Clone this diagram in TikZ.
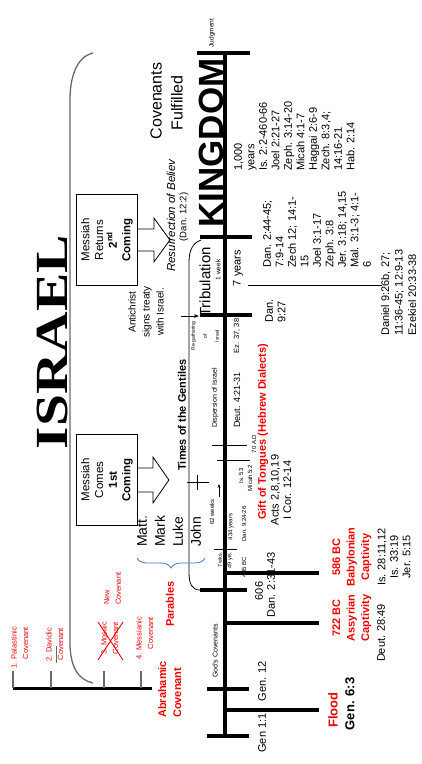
\documentclass[tikz,border=0pt]{standalone}
\usepackage{graphicx}
\usepackage{fontspec}
\setmainfont{Liberation Sans}
\newfontfamily\titleserif{Liberation Serif}
\usetikzlibrary{positioning, arrows.meta, calc, decorations.pathreplacing}

\definecolor{covred}{RGB}{240,0,0}
\definecolor{braceblue}{RGB}{68,114,196}
\definecolor{brackgray}{RGB}{105,105,105}

\begin{document}
\begin{tikzpicture}[
    x=1pt, y=-1pt,
    vtext/.style={rotate=90, inner sep=0pt, align=center, font=\fontsize{11}{12.5}\selectfont},
    tiny/.style={vtext, font=\fontsize{6}{7}\selectfont},
    redbold/.style={vtext, text=covred, font=\bfseries\fontsize{11}{14.5}\selectfont},
    covlabel/.style={vtext, text=covred, font=\fontsize{7.5}{11.5}\selectfont},
    msgbox/.style={draw, rotate=90, line width=0.8pt, minimum width=91, minimum height=61,
                   inner sep=0pt, align=center, font=\fontsize{11.5}{13.7}\selectfont},
    blockarrow/.style={line width=0.8pt, line join=miter},
    tick/.style={line width=3.5pt},
    thintick/.style={line width=0.9pt},
]
\useasboundingbox (0,0) rectangle (421,764);

% Main time line
\coordinate (creation) at (225,736);
\coordinate (judgment) at (225,53);
\draw[line width=4pt] (creation) -- (judgment);

% Thick ticks across the line
\draw[tick] (197,53) -- (250,53);
\draw[tick] (200,237) -- (252,237);
\draw[tick] (200,315) -- (252,315);
\draw[tick] (227,573) -- (319,573);
\draw[tick] (200,590) -- (247,590);
\draw[tick] (227,623) -- (319,623);
\draw[tick] (207,689) -- (249,689);
\draw[tick] (227,710) -- (319,710);
\draw[tick] (207,736) -- (249,736);
% Thin ticks
\draw[thintick] (212,445) -- (247,445);
\draw[thintick] (217,460) -- (250,460);
\draw[thintick] (214,549) -- (237,549);
\draw[thin] (248,285) -- (382,285);

% Big bracket round Israel
\draw[brackgray, line width=1.3pt] (93,53) .. controls (76,57) and (70,78) .. (70,100)
      -- (70,643) .. controls (70,666) and (78,680) .. (93,683);
\node[vtext, font=\titleserif\bfseries\fontsize{46}{46}\selectfont] (israel) at (52,342)
      {\scalebox{1.25}[1]{ISRAEL}};

% Times of the Gentiles bracket
\draw[line width=0.8pt] (201,240) .. controls (193,243) and (189,250) .. (189,262)
      -- (189,572) .. controls (189,584) and (192,590) .. (200,590);
\draw[line width=0.8pt] (187,482) -- (209,482);
\draw[line width=0.8pt] (197,475) -- (197,490);
\draw[-{Stealth[length=5pt]}, line width=0.8pt] (181,316) -- (199,316);
\draw[-{Stealth[length=4pt]}, line width=0.7pt] (219,497) -- (219,484);
\node[vtext, font=\bfseries\fontsize{11}{13}\selectfont] (gentiles) at (182,415) {Times of the Gentiles};

% Kingdom
\node[vtext, font=\fontsize{6.5}{7}\selectfont] (judg) at (212,33) {Judgment};
\node[vtext, font=\bfseries\fontsize{35}{35}\selectfont] (kingdom) at (211,143) {KINGDOM};
\node[vtext, font=\fontsize{16}{22}\selectfont] (covenants) at (156,101) {Covenants};
\node[vtext, font=\fontsize{16}{22}\selectfont] (fulfilled) at (177,103) {Fulfilled};
\node[vtext, align=left, anchor=north west] (kverses) at (234,171)
      {1,000\\years\\Is. 2:2-460-66\\Joel 2:21-27\\Zeph. 3:14-20\\Micah 4:1-7\\Haggai 2:6-9\\Zech. 8:3,4;\\14:16-21\\Hab. 2:14};

% Tribulation
\node[vtext, font=\fontsize{15}{15}\selectfont] (trib) at (205,282) {Tribulation};
\node[vtext, font=\fontsize{6.5}{7}\selectfont] (week) at (218,270) {1 week};
\node[vtext] (seven) at (238,268) {7 years};
\node[vtext, align=left, anchor=north west] (tverses) at (263,268)
      {Dan. 2:44-45;\\7:9-14\\Zech 12; 14:1-\\15\\Joel 3:1-17\\Zeph. 3:8\\Jer. 3:18; 14,15\\Mal. 3:1-3; 4:1-\\6};
\node[vtext, align=left, anchor=north west] (dan927) at (265,323) {Dan.\\9:27};
\node[vtext, align=left, anchor=north west, font=\fontsize{11}{13.5}\selectfont] (daniel) at (381,336)
      {Daniel 9:26b, 27;\\11:36-45; 12:9-13\\Ezekiel 20:33-38};
\node[vtext, font=\itshape\fontsize{11.5}{13}\selectfont, anchor=west] (resur) at (171,272) {Resurrection of Believ};
\node[vtext, font=\fontsize{9.5}{11}\selectfont] (dan122) at (184,217) {(Dan. 12:2)};

% Second coming
\node[msgbox] (second) at (107,240)
      {Messiah\\Returns\\\textbf{2\textsuperscript{nd}}\\\textbf{Coming}};
\draw[blockarrow] ($(second.south)+(0,-11)$) -- ++(16,0) -- ++(0,-11) -- ($(second.south)+(32,0)$)
      -- ($(second.south)+(16,22)$) -- ++(0,-11) -- ($(second.south)+(0,11)$);
\node[vtext, font=\fontsize{10}{14}\selectfont] (treaty) at (146,312) {Antichrist\\signs treaty\\with Israel.};

% Re-gathering and dispersion
\node[vtext, font=\fontsize{5}{12}\selectfont] (regather) at (205,336) {Re-gathering\\of\\Israel};
\node[vtext, font=\fontsize{7.5}{9}\selectfont] (ez) at (237,336) {Ez. 37, 38};
\node[vtext, font=\fontsize{7}{8}\selectfont] (disp) at (215,398) {Dispersion of Israel};
\node[vtext, font=\fontsize{9}{10}\selectfont] (deut4) at (237,400) {Deut. 4:21-31};
\node[tiny] (ad70) at (254,444) {70 A.D};
\node[vtext, text=covred, font=\bfseries\fontsize{11}{13}\selectfont] (tongues) at (263,432)
      {Gift of Tongues (Hebrew Dialects)};
\node[vtext] (acts) at (281,490) {Acts 2,8,10,19\\I Cor. 12-14};

% First coming
\node[msgbox] (first) at (107,480)
      {Messiah\\Comes\\\textbf{1st}\\\textbf{Coming}};
\draw[blockarrow] ($(first.south)+(0,-12)$) -- ++(15,0) -- ++(0,-11) -- ($(first.south)+(31,0)$)
      -- ($(first.south)+(15,23)$) -- ++(0,-11) -- ($(first.south)+(0,12)$);
\node[vtext, align=left, anchor=north west, font=\fontsize{14}{18}\selectfont] (gospels) at (137,547)
      {Matt{\color{covred}.}\\Mark\\Luke\\John};
\draw[braceblue, thick, decorate, decoration={brace, amplitude=10pt}] (205,558) -- (137,558);
\node[redbold] (parables) at (170,604) {Parables};

% Seventy weeks
\node[tiny] (is53) at (241,476) {Is. 53};
\node[tiny] (micah) at (250,478) {Micah 5:2};
\node[tiny] (weeks62) at (212,512) {62 weeks};
\node[tiny] (years434) at (231,527) {434 years};
\node[tiny] (dan924) at (244,524) {Dan. 9:24-26};
\node[tiny, font=\fontsize{5.5}{6}\selectfont] (wks7) at (220,560) {7 wks.};
\node[tiny, font=\fontsize{5.5}{6}\selectfont] (yrs49) at (230,560) {49 yrs.};
\node[tiny] (bc445) at (244,567) {445 BC};

% Captivities
\node[vtext] (n606) at (259,591) {606};
\node[vtext] (dan231) at (271,585) {Dan. 2:31-43};
\node[redbold] (babylon) at (352,557) {586 BC\\Babylonian\\Captivity};
\node[vtext] (isjer) at (394,557) {Is. 28:11,12\\Is. 33:19\\Jer. 5:15};
\node[redbold] (assyria) at (352,618) {722 BC\\Assyrian\\Captivity};
\node[vtext] (deut28) at (381,633) {Deut. 28:49};

% Beginnings
\node[vtext, font=\fontsize{7}{8}\selectfont] (gods) at (215,651) {God's Covenants};
\node[vtext] (gen12) at (262,681) {Gen. 12};
\node[vtext] (gen11) at (262,733) {Gen 1:1};
\node[vtext, text=covred, font=\bfseries\fontsize{13}{15}\selectfont] (flood) at (333,710) {Flood};
\node[vtext, font=\bfseries\fontsize{13}{15}\selectfont] (gen63) at (350,704) {Gen. 6:3};

% Abrahamic covenant tree
\draw[line width=3pt] (13,688) -- (152,688);
\foreach \cx in {13,51,104,141}
  \draw[brackgray, line width=1.3pt] (\cx,688) -- (\cx,671);
\draw[brackgray, line width=0.8pt] (56,646) -- (56,663);
\node[covlabel, align=right, anchor=north east] (palast) at (11,627) {1. Palastinic\\Covenant};
\node[covlabel, align=right, anchor=north east] (david) at (46,628) {2. Davidic\\Covenant};
\node[covlabel, align=right, anchor=north east] (mosaic) at (101,622) {3. Mosaic\\Covenant};
\node[covlabel, align=right, anchor=north east] (messianic) at (136,617) {4. Messianic\\Covenant};
\node[covlabel, align=left, anchor=north west] (newcov) at (104,605) {New\\Covenant};
\draw[covred, line width=0.9pt] (98,622) -- (123,660) (123,622) -- (98,660);
\node[redbold, align=left, anchor=north west, font=\bfseries\fontsize{11}{15}\selectfont] (abraham) at (158,718)
      {Abrahamic\\Covenant};

\end{tikzpicture}
\end{document}
